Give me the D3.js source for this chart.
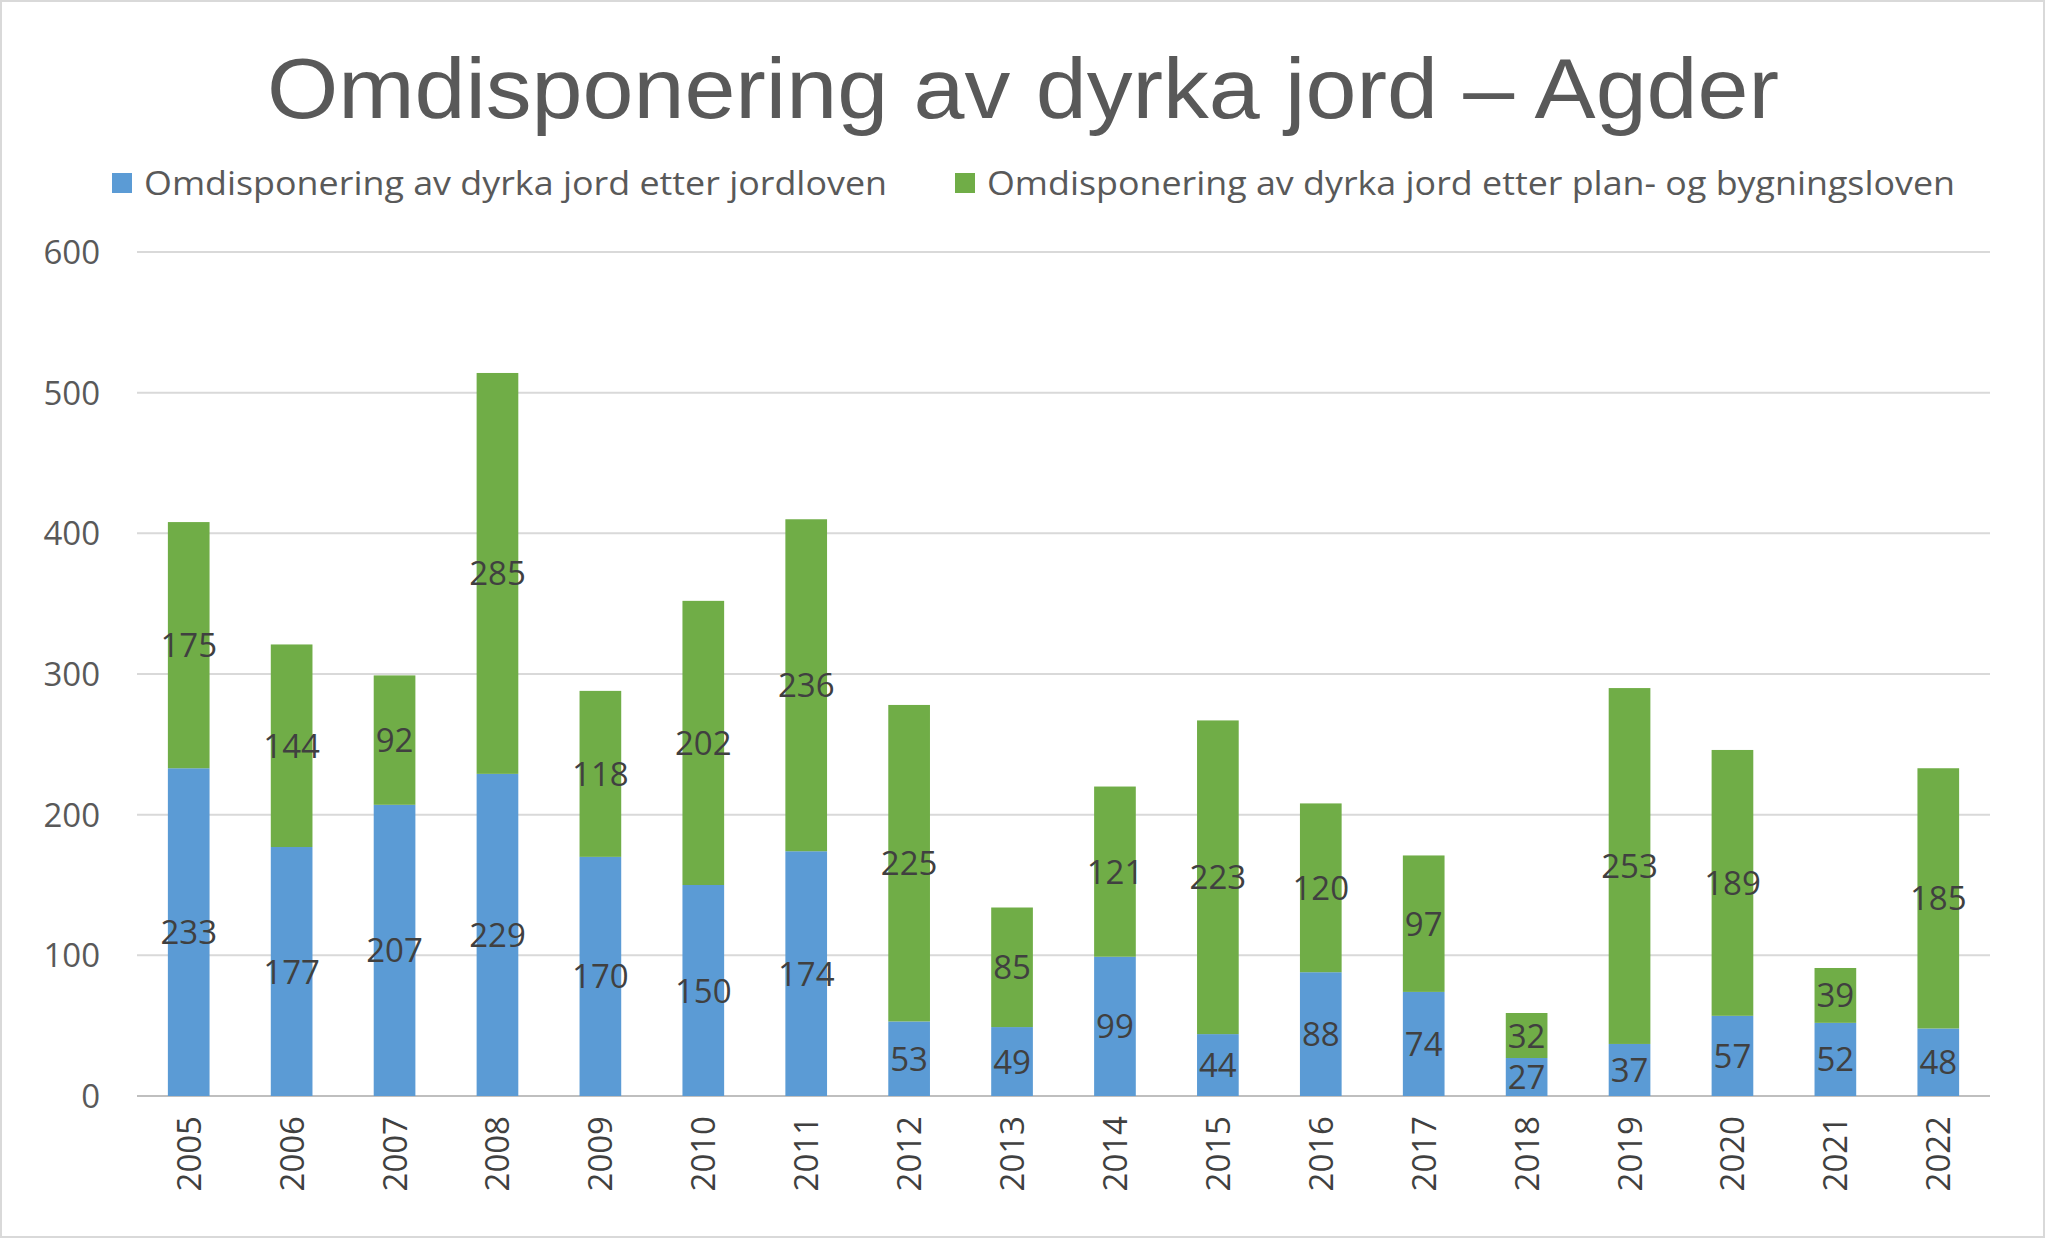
<!DOCTYPE html>
<html><head><meta charset="utf-8">
<script src="https://cdn.jsdelivr.net/npm/d3@7"></script>
<style>body{margin:0;background:#fff;}svg{display:block;font-family:"Open Sans","Liberation Sans",Arial,sans-serif;}</style>
</head><body><svg id="c" width="2046" height="1239"></svg>
<script>
const years = ["2005","2006","2007","2008","2009","2010","2011","2012","2013","2014","2015","2016","2017","2018","2019","2020","2021","2022"];
const jordloven = [233,177,207,229,170,150,174,53,49,99,44,88,74,27,37,57,52,48];
const pbl = [175,144,92,285,118,202,236,225,85,121,223,120,97,32,253,189,39,185];
const yTicks = [0,100,200,300,400,500,600];
const seriesNames = ["Omdisponering av dyrka jord etter jordloven","Omdisponering av dyrka jord etter plan- og bygningsloven"];
const colors = ["#5b9bd5","#70ad47"];

const svg = d3.select("#c");
svg.append("rect").attr("x",1).attr("y",1).attr("width",2043).attr("height",1236)
  .attr("fill","#fff").attr("stroke","#d9d9d9").attr("stroke-width",2);

const x = d3.scaleBand().domain(years).range([137,1990]).paddingInner(0.595).paddingOuter(0.3);
const y = d3.scaleLinear().domain([0,600]).range([1096,252]);

svg.append("text").attr("x",1023).attr("y",118).attr("text-anchor","middle")
  .attr("font-family","Liberation Sans, Arial, sans-serif")
  .attr("font-size",86).attr("fill","#595959").text("Omdisponering av dyrka jord – Agder")
  .attr("textLength",1512).attr("lengthAdjust","spacingAndGlyphs");

// legend
const lx = [112, 955];
seriesNames.forEach((n,i)=>{
  svg.append("rect").attr("x",lx[i]).attr("y",173).attr("width",20).attr("height",20).attr("fill",colors[i]);
  svg.append("text").attr("x",lx[i]+32).attr("y",195).attr("font-size",33).attr("fill","#595959").text(n)
    .attr("textLength",i===0?743:968).attr("lengthAdjust","spacingAndGlyphs");
});

// grid + y axis
yTicks.forEach(t=>{
  svg.append("line").attr("x1",137).attr("x2",1990).attr("y1",y(t)).attr("y2",y(t))
    .attr("stroke",t===0?"#bfbfbf":"#d9d9d9").attr("stroke-width",2);
  svg.append("text").attr("x",100).attr("y",y(t)+12).attr("text-anchor","end")
    .attr("font-size",33).attr("fill","#595959").text(t);
});

const g = svg.append("g");
years.forEach((yr,i)=>{
  const a = jordloven[i], b = pbl[i];
  g.append("rect").attr("x",x(yr)).attr("width",x.bandwidth()).attr("y",y(a)).attr("height",y(0)-y(a)).attr("fill",colors[0]);
  g.append("rect").attr("x",x(yr)).attr("width",x.bandwidth()).attr("y",y(a+b)).attr("height",y(a)-y(a+b)).attr("fill",colors[1]);
  const cx = x(yr)+x.bandwidth()/2;
  g.append("text").attr("x",cx).attr("y",y(a/2)+12).attr("text-anchor","middle").attr("font-size",33).attr("fill","#404040").text(a);
  g.append("text").attr("x",cx).attr("y",y(a+b/2)+12).attr("text-anchor","middle").attr("font-size",33).attr("fill","#404040").text(b);
  g.append("text").attr("transform",`translate(${cx+12},${1116}) rotate(-90)`).attr("text-anchor","end")
    .attr("font-size",33).attr("fill","#404040").text(yr);
});
</script></body></html>
